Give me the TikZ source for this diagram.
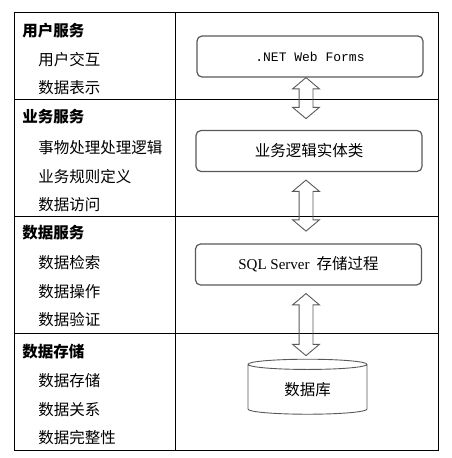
\documentclass[tikz,border=0pt]{standalone}
\usepackage{fontspec}
\setmainfont{Liberation Serif}
\newfontfamily\cjk{Noto Sans CJK SC}
\newfontfamily\codefont{Liberation Mono}
\usetikzlibrary{shapes.geometric,shapes.arrows,calc}

\tikzset{
  layer/.style={anchor=west,inner sep=0pt,font=\cjk\bfseries\fontsize{15.5}{18}\selectfont},
  item/.style={anchor=west,inner sep=0pt,font=\cjk\fontsize{15.5}{18}\selectfont},
  part/.style={draw=black!65,line width=1.2pt,rounded corners=5pt,minimum width=226pt,minimum height=41pt,inner sep=0pt,font=\cjk\fontsize{15.5}{18}\selectfont},
  link/.style={double arrow,draw=black!65,line width=0.9pt,rotate=90,inner xsep=0pt,inner ysep=6.5pt,
    double arrow head extend=6.5pt,double arrow tip angle=100,minimum width=0pt},
  store/.style={cylinder,shape border rotate=90,draw=black!65,line width=0.9pt,aspect=0.22,
    minimum width=119pt,minimum height=55pt,inner sep=0pt,font=\cjk\fontsize{15.5}{18}\selectfont}
}

\begin{document}
\begin{tikzpicture}[x=1pt,y=-1pt,line width=0.8pt]
  \useasboundingbox (0,0) rectangle (451,458);

  % table
  \draw (14,12) rectangle (438,450);
  \draw (175,12) -- (175,450);
  \foreach \y in {99,216,333}
    \draw (14,\y) -- (438,\y);

  % left column
  \node[layer] (usr)  at (22,31)  {用户服务};
  \node[item]  (usr1) at (38,60)  {用户交互};
  \node[item]  (usr2) at (38,88)  {数据表示};

  \node[layer] (biz)  at (22,117) {业务服务};
  \node[item]  (biz1) at (38,148) {事物处理处理逻辑};
  \node[item]  (biz2) at (38,177) {业务规则定义};
  \node[item]  (biz3) at (38,205) {数据访问};

  \node[layer] (dat)  at (22,233) {数据服务};
  \node[item]  (dat1) at (38,263) {数据检索};
  \node[item]  (dat2) at (38,292) {数据操作};
  \node[item]  (dat3) at (38,320) {数据验证};

  \node[layer] (sto)  at (22,352) {数据存储};
  \node[item]  (sto1) at (38,381) {数据存储};
  \node[item]  (sto2) at (38,410) {数据关系};
  \node[item]  (sto3) at (38,438) {数据完整性};

  % right column
  \node[part]  (web)   at (310,56.5)  {\codefont\fontsize{13}{15}\selectfont .NET Web Forms};
  \node[part]  (logic) at (309,151)   {业务逻辑实体类};
  \node[part]  (sql)   at (308.5,264.5) {{\rmfamily\fontsize{15}{18}\selectfont SQL Server}\hspace{7pt}存储过程};
  \node[store] (db)    at (307.5,389.5) {数据库};

  \node[link,minimum height=41pt] (webLogic) at ($(web.south)+(-4,20.5)$)   {};
  \node[link,minimum height=51pt] (logicSql) at ($(logic.south)+(-3,33.5)$) {};
  \node[link,minimum height=62pt] (sqlDb)    at ($(sql.south)+(-2.5,39)$)   {};
\end{tikzpicture}
\end{document}
